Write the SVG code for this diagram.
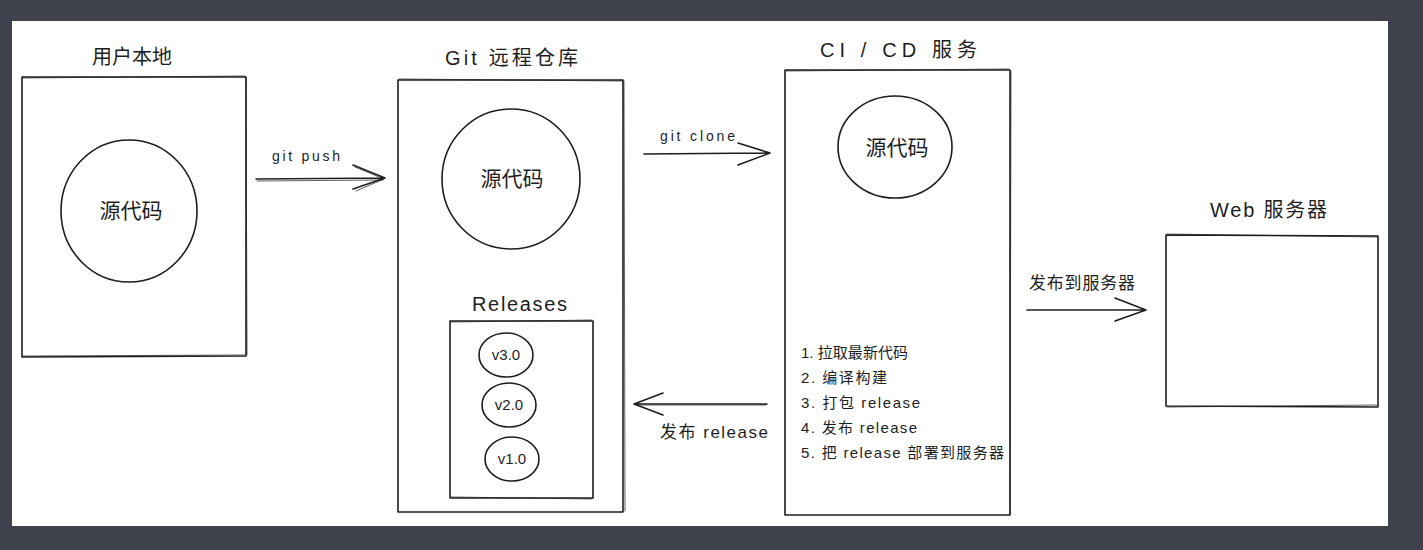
<svg xmlns="http://www.w3.org/2000/svg" width="1423" height="550" viewBox="0 0 1423 550">
<style>
  .s{fill:none;stroke:#1e1e1e;stroke-width:1.6;stroke-linecap:round;stroke-linejoin:round}
  .s2{fill:none;stroke:#1e1e1e;stroke-width:1;stroke-linecap:round;opacity:.7}
  .t{font-family:"Liberation Sans","Noto Sans CJK SC",sans-serif;fill:#1e1e1e}
  .title{font-size:20px}
  .big{font-size:21px}
  .lbl{font-size:17px}
  .sm{font-size:14px}
  .li{font-size:15px}
  .v{font-size:15px}
</style>
<rect x="0" y="0" width="1423" height="550" fill="#3f424c"/>
<rect x="12" y="21" width="1376" height="505" fill="#ffffff"/>

<g id="local">
  <path class="s" d="M22 77 L246 77 L246 356 L22 357 Z"/>
  <path class="s2" d="M23 78 L245 76 M246 78 L247 355 M23 356 L245 355"/>
  <text class="t title" x="132" y="64" text-anchor="middle">用户本地</text>
  <ellipse class="s" cx="129" cy="211" rx="68" ry="71"/>
  <text class="t big" x="131" y="218" text-anchor="middle">源代码</text>
</g>

<g id="git-remote">
  <path class="s" d="M398 80 L623 80 L623 512 L398 512 Z"/>
  <path class="s2" d="M399 79 L622 81 M624 81 L625 511"/>
  <text class="t title" x="445" y="65" textLength="133">Git 远程仓库</text>
  <ellipse class="s" cx="511" cy="179" rx="69" ry="70"/>
  <text class="t big" x="512" y="186" text-anchor="middle">源代码</text>
  <text class="t title" x="472" y="311" textLength="95">Releases</text>
  <path class="s" d="M450 321 L593 321 L593 498 L450 498 Z"/>
  <path class="s2" d="M451 322 L592 320 M451 497 L592 499"/>
  <g id="v3">
    <ellipse class="s" cx="506" cy="355" rx="27" ry="22"/>
    <text class="t v" x="506" y="360" text-anchor="middle">v3.0</text>
  </g>
  <g id="v2">
    <ellipse class="s" cx="509" cy="405" rx="27" ry="22"/>
    <text class="t v" x="509" y="410" text-anchor="middle">v2.0</text>
  </g>
  <g id="v1">
    <ellipse class="s" cx="512" cy="459" rx="27" ry="22"/>
    <text class="t v" x="512" y="464" text-anchor="middle">v1.0</text>
  </g>
</g>

<g id="cicd">
  <path class="s" d="M785 70 L1010 70 L1010 515 L785 515 Z"/>
  <path class="s2" d="M786 71 L1009 69 M1011 71 L1010 514"/>
  <text class="t title" x="820" y="57" textLength="157">CI / CD 服务</text>
  <ellipse class="s" cx="895" cy="147" rx="57" ry="51"/>
  <text class="t big" x="897" y="155" text-anchor="middle">源代码</text>
  <text class="t li" x="801" y="358" textLength="107">1. 拉取最新代码</text>
  <text class="t li" x="801" y="383" textLength="86">2. 编译构建</text>
  <text class="t li" x="801" y="408" textLength="119">3. 打包 release</text>
  <text class="t li" x="801" y="433" textLength="116">4. 发布 release</text>
  <text class="t li" x="801" y="458" textLength="203">5. 把 release 部署到服务器</text>
</g>

<g id="web">
  <path class="s" d="M1166 235 L1378 236 L1378 407 L1166 406 Z"/>
  <path class="s2" d="M1167 234 L1377 237 M1167 407 L1377 405"/>
  <text class="t title" x="1210" y="217" textLength="117">Web 服务器</text>
</g>

<g id="connectors">
  <g id="c-push">
    <path class="s" d="M256 179 L385 178 M353 165 L385 178 L353 189"/>
    <path class="s2" d="M257 181 L383 180 M355 167 L384 179 L356 191"/>
    <text class="t sm" x="272" y="161" textLength="68">git push</text>
  </g>
  <g id="c-clone">
    <path class="s" d="M644 154 L770 153 M738 143 L770 153 L738 165"/>
    <text class="t sm" x="660" y="141" textLength="75">git clone</text>
  </g>
  <g id="c-release">
    <path class="s" d="M767 404 L634 404 M663 393 L634 404 L663 415"/>
    <path class="s2" d="M766 405 L636 405"/>
    <text class="t lbl" x="660" y="438" textLength="108">发布 release</text>
  </g>
  <g id="c-deploy">
    <path class="s" d="M1027 310 L1146 310 M1115 298 L1146 310 L1115 321"/>
    <text class="t lbl" x="1029" y="289" textLength="106">发布到服务器</text>
  </g>
</g>
</svg>
